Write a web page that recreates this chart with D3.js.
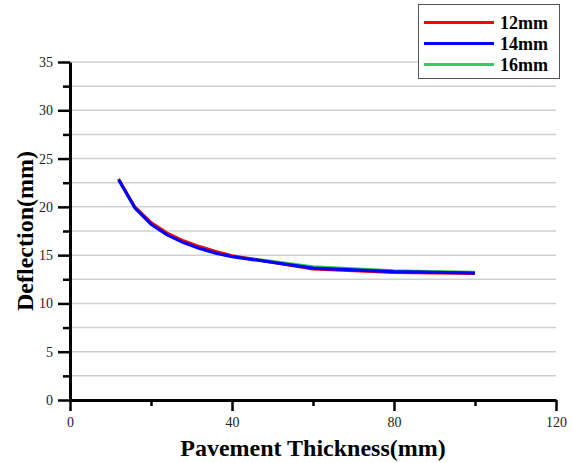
<!DOCTYPE html>
<html>
<head>
<meta charset="utf-8">
<script src="https://cdn.jsdelivr.net/npm/d3@7"></script>
<style>
  body { margin: 0; background: #fff; }
  svg text { font-family: "Liberation Serif", "Times New Roman", Times, "DejaVu Serif", serif; }
</style>
</head>
<body>
<div id="chart"></div>
<script>
// data
const thickness = [12, 16, 20, 24, 28, 32, 36, 40, 60, 80, 100];
const d12 = [22.9, 20.0, 18.4, 17.3, 16.5, 15.9, 15.4, 14.95, 13.55, 13.2, 13.1];
const d14 = [22.8, 19.9, 18.2, 17.1, 16.3, 15.7, 15.2, 14.85, 13.65, 13.3, 13.15];
const d16 = [22.9, 20.0, 18.3, 17.15, 16.35, 15.75, 15.25, 14.9, 13.8, 13.4, 13.25];
const seriesNames = ['12mm', '14mm', '16mm'];
const seriesColors = ['#ff0000', '#0000ff', '#33cc66'];
const xTicks = [0, 40, 80, 120];
const yTicks = [0, 5, 10, 15, 20, 25, 30, 35];

const width = 573, height = 463;
const margin = { top: 62, right: 17, bottom: 63, left: 70 };
const w = width - margin.left - margin.right;
const h = height - margin.top - margin.bottom;
const serif = '"Liberation Serif", "Times New Roman", Times, serif';

const svg = d3.select('#chart').append('svg')
  .attr('width', width)
  .attr('height', height);

const g = svg.append('g')
  .attr('transform', `translate(${margin.left},${margin.top})`);

const x = d3.scaleLinear().domain([0, 120]).range([0, w]);
const y = d3.scaleLinear().domain([0, 35]).range([h, 0]);

// horizontal grid, every 2.5
g.append('g')
  .selectAll('line')
  .data(d3.range(2.5, 35.01, 2.5))
  .join('line')
  .attr('x1', 0).attr('x2', w)
  .attr('y1', d => y(d)).attr('y2', d => y(d))
  .attr('stroke', '#cfcfcf')
  .attr('stroke-width', 1.5);

// minor ticks
g.append('g')
  .attr('transform', `translate(0,${h})`)
  .call(d3.axisBottom(x).tickValues([20, 60, 100]).tickSize(6).tickFormat(''))
  .call(s => s.select('.domain').remove())
  .selectAll('line').attr('stroke', '#000').attr('stroke-width', 2.5);

g.append('g')
  .call(d3.axisLeft(y).tickValues(d3.range(2.5, 35, 5)).tickSize(7).tickFormat(''))
  .call(s => s.select('.domain').remove())
  .selectAll('line').attr('stroke', '#000').attr('stroke-width', 2.5);

// major axes
const xAxis = g.append('g')
  .attr('transform', `translate(0,${h})`)
  .call(d3.axisBottom(x).tickValues(xTicks).tickSize(11).tickSizeOuter(0).tickPadding(6));

const yAxis = g.append('g')
  .call(d3.axisLeft(y).tickValues(yTicks).tickSize(12).tickSizeOuter(0).tickPadding(5));

[xAxis, yAxis].forEach(a => {
  a.attr('font-family', serif);
  a.select('.domain').attr('stroke', '#000').attr('stroke-width', 3);
  a.selectAll('.tick line').attr('stroke', '#000').attr('stroke-width', 2.5);
  a.selectAll('.tick text')
    .attr('font-family', serif)
    .attr('font-size', 14)
    .attr('fill', '#222');
});

// lines
const rows = [d12, d14, d16];
const line = d3.line()
  .x((d, i) => x(thickness[i]))
  .y(d => y(d));

const drawOrder = [2, 0, 1];
drawOrder.forEach(k => {
  g.append('path')
    .datum(rows[k])
    .attr('fill', 'none')
    .attr('stroke', seriesColors[k])
    .attr('stroke-width', k === 1 ? 3.2 : 2.8)
    .attr('stroke-linejoin', 'round')
    .attr('d', line);
});

// axis titles
svg.append('text')
  .attr('x', margin.left + w / 2)
  .attr('y', 456)
  .attr('text-anchor', 'middle')
  .attr('font-family', serif)
  .attr('font-size', 24)
  .attr('font-weight', 'bold')
  .text('Pavement Thickness(mm)');

svg.append('text')
  .attr('transform', `translate(33,${margin.top + h / 2}) rotate(-90)`)
  .attr('text-anchor', 'middle')
  .attr('font-family', serif)
  .attr('font-size', 24)
  .attr('font-weight', 'bold')
  .text('Deflection(mm)');

// legend
const legend = svg.append('g');
legend.append('rect')
  .attr('x', 418.5).attr('y', 4.5)
  .attr('width', 141).attr('height', 74)
  .attr('fill', '#fff')
  .attr('stroke', '#555')
  .attr('stroke-width', 1);

seriesNames.forEach((name, i) => {
  const ly = 22.5 + i * 21;
  legend.append('line')
    .attr('x1', 424).attr('x2', 494)
    .attr('y1', ly).attr('y2', ly)
    .attr('stroke', seriesColors[i])
    .attr('stroke-width', 3);
  legend.append('text')
    .attr('x', 500).attr('y', ly + 6)
    .attr('font-family', serif)
    .attr('font-size', 18)
    .attr('font-weight', 'bold')
    .text(name);
});
</script>
</body>
</html>
